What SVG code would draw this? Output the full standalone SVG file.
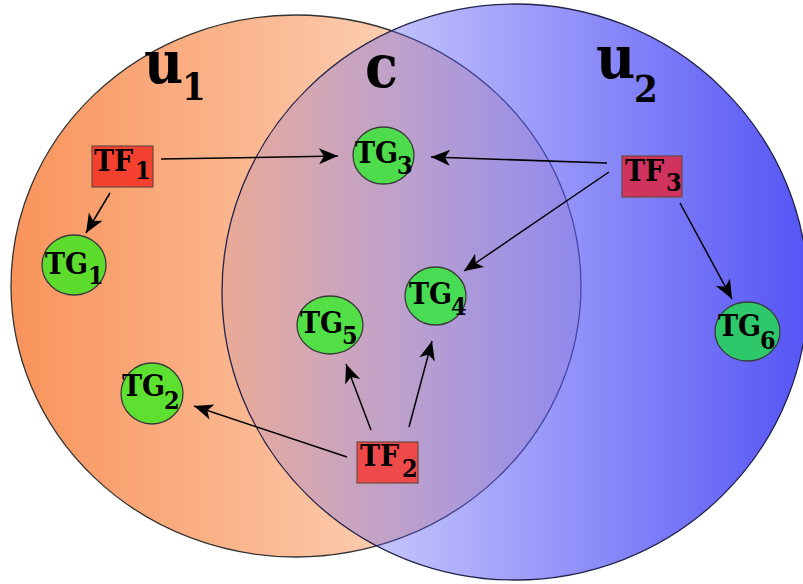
<svg xmlns="http://www.w3.org/2000/svg" width="803" height="584" viewBox="0 0 803 584">
<defs>
<linearGradient id="gOr" gradientUnits="userSpaceOnUse" x1="11" y1="0" x2="581" y2="0">
<stop offset="0" stop-color="#f8935a"/>
<stop offset="1" stop-color="#feeadc"/>
</linearGradient>
<linearGradient id="gBl" gradientUnits="userSpaceOnUse" x1="222" y1="0" x2="808" y2="0">
<stop offset="0" stop-color="#4f4ff5" stop-opacity="0.1"/>
<stop offset="1" stop-color="#4f4ff5" stop-opacity="0.97"/>
</linearGradient>
<marker id="ah" markerUnits="userSpaceOnUse" markerWidth="26" markerHeight="22" viewBox="-22 -11 26 22" refX="0" refY="0" orient="auto">
<path d="M0,0 L-19,-8 L-14,0 L-19,8 Z" fill="#000"/>
</marker>
<style>
.lbl{font-family:"DejaVu Serif Condensed","DejaVu Serif","Liberation Serif",serif;font-stretch:condensed;font-weight:bold;fill:#000}
.big{font-size:60px}
.bsub{font-size:38px}
.nt{font-size:30px}
.ns{font-size:25px}
.tf{stroke:#6a4a40;stroke-width:1.2}
.tg{stroke:#3a3a3a;stroke-width:1.3}
.edge{stroke:#000;stroke-width:1.5;fill:none;marker-end:url(#ah)}
</style>
</defs>
<g id="sets">
<ellipse id="u1" cx="296" cy="286" rx="285" ry="271" fill="url(#gOr)" stroke="#333" stroke-width="1.3"/>
<ellipse id="u2" cx="515" cy="292" rx="293" ry="288" fill="url(#gBl)" stroke="#22224a" stroke-width="1.3"/>
<text class="lbl big" x="144" y="83">u</text><text class="lbl bsub" x="182" y="100">1</text>
<text class="lbl big" x="365" y="87">c</text>
<text class="lbl big" x="596" y="78">u</text><text class="lbl bsub" x="634" y="102">2</text>
</g>
<g id="connectors">
<line class="edge" x1="161" y1="159" x2="338" y2="156"/>
<line class="edge" x1="607" y1="163" x2="431" y2="157"/>
<line class="edge" x1="609" y1="172" x2="464" y2="271"/>
<line class="edge" x1="680" y1="203" x2="732" y2="299"/>
<line class="edge" x1="110" y1="193" x2="86" y2="233"/>
<line class="edge" x1="347" y1="457" x2="194" y2="406"/>
<line class="edge" x1="371" y1="430" x2="346" y2="364"/>
<line class="edge" x1="409" y1="427" x2="432" y2="341"/>
</g>
<g id="TF1"><rect class="tf" x="92" y="146" width="61" height="41" fill="#f4412f"/><text class="lbl nt" x="94" y="171">TF</text><text class="lbl ns" x="135" y="179">1</text></g>
<g id="TF2"><rect class="tf" x="357" y="442" width="61" height="41" fill="#ef4a4a"/><text class="lbl nt" x="360" y="466">TF</text><text class="lbl ns" x="402" y="477">2</text></g>
<g id="TF3"><rect class="tf" x="622" y="156" width="60" height="41" fill="#d1335f"/><text class="lbl nt" x="625" y="181">TF</text><text class="lbl ns" x="666" y="191">3</text></g>
<g id="TG1"><ellipse class="tg" cx="74" cy="265" rx="32" ry="30" fill="#5edc2e"/><text class="lbl nt" x="45" y="274">TG</text><text class="lbl ns" x="88" y="284">1</text></g>
<g id="TG2"><ellipse class="tg" cx="152" cy="393.5" rx="31" ry="30.5" fill="#5ee030"/><text class="lbl nt" x="122" y="396">TG</text><text class="lbl ns" x="164" y="409">2</text></g>
<g id="TG3"><ellipse class="tg" cx="383.5" cy="155.5" rx="30.5" ry="28.5" fill="#4fdc4c"/><text class="lbl nt" x="355" y="163">TG</text><text class="lbl ns" x="397" y="174">3</text></g>
<g id="TG4"><ellipse class="tg" cx="435.5" cy="296" rx="30.5" ry="29" fill="#48dc55"/><text class="lbl nt" x="409" y="304">TG</text><text class="lbl ns" x="451" y="315">4</text></g>
<g id="TG5"><ellipse class="tg" cx="330" cy="325" rx="33" ry="29" fill="#52e046"/><text class="lbl nt" x="300" y="333">TG</text><text class="lbl ns" x="342" y="344">5</text></g>
<g id="TG6"><ellipse class="tg" cx="747.5" cy="331.5" rx="32.5" ry="29.5" fill="#2ec86a"/><text class="lbl nt" x="718" y="336">TG</text><text class="lbl ns" x="760" y="349">6</text></g>
</svg>
